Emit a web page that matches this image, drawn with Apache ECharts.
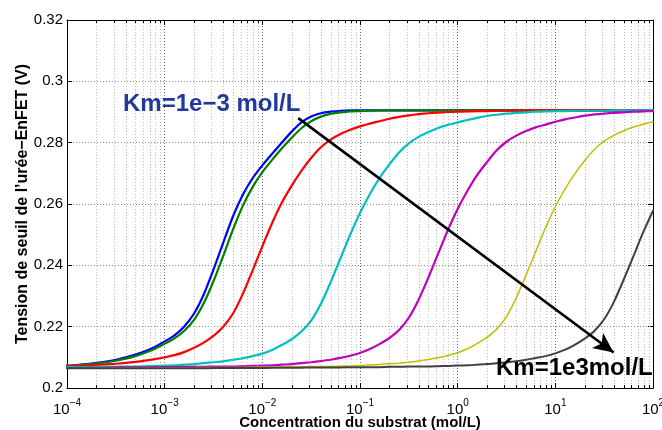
<!DOCTYPE html>
<html>
<head>
<meta charset="utf-8">
<script src="https://cdn.jsdelivr.net/npm/echarts@6/dist/echarts.min.js"></script>
<style>
  html, body { margin: 0; padding: 0; background: #fff; }
  #chart { width: 662px; height: 430px; }
</style>
</head>
<body>
<div id="chart"></div>
<script>
// Substrate concentration (mol/L), 10 samples per decade from 1e-4 to 1e2
const concentration = [
  1.00e-4, 1.26e-4, 1.58e-4, 2.00e-4, 2.51e-4, 3.16e-4, 3.98e-4, 5.01e-4, 6.31e-4, 7.94e-4,
  1.00e-3, 1.26e-3, 1.58e-3, 2.00e-3, 2.51e-3, 3.16e-3, 3.98e-3, 5.01e-3, 6.31e-3, 7.94e-3,
  1.00e-2, 1.26e-2, 1.58e-2, 2.00e-2, 2.51e-2, 3.16e-2, 3.98e-2, 5.01e-2, 6.31e-2, 7.94e-2,
  1.00e-1, 1.26e-1, 1.58e-1, 2.00e-1, 2.51e-1, 3.16e-1, 3.98e-1, 5.01e-1, 6.31e-1, 7.94e-1,
  1.00, 1.26, 1.58, 2.00, 2.51, 3.16, 3.98, 5.01, 6.31, 7.94,
  10.0, 12.6, 15.8, 20.0, 25.1, 31.6, 39.8, 50.1, 63.1, 79.4,
  100
];

// Threshold voltage (V) for each Km curve
const vBlue = [
  0.2073, 0.2075, 0.2078, 0.2082, 0.2086, 0.2092, 0.2100, 0.2109, 0.2120, 0.2134,
  0.2152, 0.2172, 0.2200, 0.2243, 0.2305, 0.2386, 0.2474, 0.2560, 0.2630, 0.2684,
  0.2726, 0.2764, 0.2800, 0.2836, 0.2866, 0.2885, 0.2896, 0.2901, 0.2904, 0.2905,
  0.2905, 0.2905, 0.2905, 0.2905, 0.2905, 0.2905, 0.2905, 0.2905, 0.2905, 0.2905,
  0.2905, 0.2905, 0.2905, 0.2905, 0.2905, 0.2905, 0.2905, 0.2905, 0.2905, 0.2905,
  0.2905, 0.2905, 0.2905, 0.2905, 0.2905, 0.2905, 0.2905, 0.2905, 0.2905, 0.2905,
  0.2905
];
const vGreen = [
  0.2072, 0.2074, 0.2077, 0.2080, 0.2084, 0.2089, 0.2096, 0.2104, 0.2115, 0.2128,
  0.2144, 0.2162, 0.2186, 0.2222, 0.2276, 0.2348, 0.2431, 0.2517, 0.2594, 0.2655,
  0.2704, 0.2744, 0.2781, 0.2816, 0.2847, 0.2870, 0.2885, 0.2894, 0.2899, 0.2902,
  0.2903, 0.2904, 0.2905, 0.2905, 0.2905, 0.2905, 0.2905, 0.2905, 0.2905, 0.2905,
  0.2905, 0.2905, 0.2905, 0.2905, 0.2905, 0.2905, 0.2905, 0.2905, 0.2905, 0.2905,
  0.2905, 0.2905, 0.2905, 0.2905, 0.2905, 0.2905, 0.2905, 0.2905, 0.2905, 0.2905,
  0.2905
];
const vRed = [
  0.2071, 0.2072, 0.2073, 0.2075, 0.2077, 0.2079, 0.2082, 0.2085, 0.2089, 0.2094,
  0.2100, 0.2107, 0.2117, 0.2131, 0.2148, 0.2170, 0.2200, 0.2243, 0.2307, 0.2383,
  0.2462, 0.2538, 0.2604, 0.2660, 0.2708, 0.2750, 0.2785, 0.2810, 0.2828, 0.2842,
  0.2853, 0.2862, 0.2870, 0.2878, 0.2884, 0.2889, 0.2893, 0.2896, 0.2898, 0.2900,
  0.2901, 0.2902, 0.2903, 0.2903, 0.2904, 0.2904, 0.2904, 0.2905, 0.2905, 0.2905,
  0.2905, 0.2905, 0.2905, 0.2905, 0.2905, 0.2905, 0.2905, 0.2905, 0.2905, 0.2905,
  0.2905
];
const vCyan = [
  0.2068, 0.2068, 0.2068, 0.2069, 0.2069, 0.2069, 0.2070, 0.2070, 0.2071, 0.2072,
  0.2073, 0.2074, 0.2076, 0.2078, 0.2081, 0.2084, 0.2087, 0.2092, 0.2097, 0.2104,
  0.2112, 0.2124, 0.2140, 0.2159, 0.2184, 0.2220, 0.2275, 0.2345, 0.2423, 0.2500,
  0.2571, 0.2632, 0.2684, 0.2729, 0.2768, 0.2798, 0.2819, 0.2835, 0.2848, 0.2858,
  0.2866, 0.2874, 0.2881, 0.2887, 0.2891, 0.2895, 0.2897, 0.2899, 0.2901, 0.2902,
  0.2903, 0.2903, 0.2904, 0.2904, 0.2904, 0.2904, 0.2905, 0.2905, 0.2905, 0.2905,
  0.2905
];
const vMagenta = [
  0.2065, 0.2066, 0.2066, 0.2066, 0.2066, 0.2067, 0.2067, 0.2067, 0.2067, 0.2068,
  0.2068, 0.2068, 0.2069, 0.2069, 0.2069, 0.2070, 0.2070, 0.2070, 0.2071, 0.2072,
  0.2073, 0.2074, 0.2076, 0.2078, 0.2081, 0.2084, 0.2088, 0.2092, 0.2098, 0.2105,
  0.2114, 0.2127, 0.2143, 0.2163, 0.2189, 0.2229, 0.2288, 0.2360, 0.2438, 0.2515,
  0.2584, 0.2643, 0.2694, 0.2737, 0.2775, 0.2803, 0.2823, 0.2838, 0.2850, 0.2859,
  0.2868, 0.2876, 0.2882, 0.2888, 0.2892, 0.2895, 0.2897, 0.2899, 0.2901, 0.2902,
  0.2903
];
const vYellow = [
  0.2064, 0.2064, 0.2064, 0.2065, 0.2065, 0.2065, 0.2065, 0.2065, 0.2065, 0.2066,
  0.2066, 0.2066, 0.2066, 0.2066, 0.2067, 0.2067, 0.2067, 0.2067, 0.2067, 0.2068,
  0.2068, 0.2068, 0.2069, 0.2069, 0.2069, 0.2070, 0.2070, 0.2070, 0.2071, 0.2072,
  0.2073, 0.2075, 0.2077, 0.2079, 0.2081, 0.2084, 0.2088, 0.2093, 0.2099, 0.2106,
  0.2115, 0.2128, 0.2145, 0.2165, 0.2192, 0.2233, 0.2294, 0.2368, 0.2446, 0.2523,
  0.2591, 0.2649, 0.2698, 0.2742, 0.2778, 0.2805, 0.2824, 0.2839, 0.2851, 0.2860,
  0.2868
];
const vGray = [
  0.2064, 0.2064, 0.2064, 0.2064, 0.2064, 0.2064, 0.2064, 0.2064, 0.2064, 0.2064,
  0.2064, 0.2064, 0.2064, 0.2064, 0.2064, 0.2065, 0.2065, 0.2065, 0.2065, 0.2065,
  0.2065, 0.2066, 0.2066, 0.2066, 0.2066, 0.2067, 0.2067, 0.2067, 0.2067, 0.2068,
  0.2068, 0.2068, 0.2068, 0.2069, 0.2069, 0.2070, 0.2070, 0.2070, 0.2071, 0.2072,
  0.2073, 0.2074, 0.2076, 0.2078, 0.2081, 0.2084, 0.2087, 0.2092, 0.2098, 0.2104,
  0.2113, 0.2125, 0.2141, 0.2161, 0.2186, 0.2224, 0.2281, 0.2353, 0.2430, 0.2508,
  0.2578
];

const seriesNames = ['Km=1e-3', 'Km=1e-2', 'Km=1e-1', 'Km=1', 'Km=1e1', 'Km=1e2', 'Km=1e3'];
const seriesValues = [vBlue, vGreen, vRed, vCyan, vMagenta, vYellow, vGray];
const seriesColors = ['#0000ff', '#008000', '#ff0000', '#00bfbf', '#bf00bf', '#bfbf00', '#404040'];
const seriesWidths = [2.2, 2.2, 2.2, 2.2, 2.2, 1.5, 2];

// Axes
const xMin = 1e-4, xMax = 1e2;
const yMin = 0.2, yMax = 0.32, yStep = 0.02;
const xTitle = 'Concentration du substrat (mol/L)';
const yTitle = 'Tension de seuil de l\u2019ur\u00e9e\u2212EnFET (V)';

// Annotations (data units)
const arrowFrom = [0.0233, 0.2880];
const arrowTo = [39.5, 0.2116];
const labelLow = 'Km=1e\u22123 mol/L';
const labelHigh = 'Km=1e3mol/L';

// minor log ticks 2..9 per decade
const minorTicks = [];
for (let e = -4; e < 2; e++) {
  for (let m = 2; m <= 9; m++) minorTicks.push([m * Math.pow(10, e), 0.26]);
}

const FONT = '"Liberation Sans", Arial, Helvetica, sans-serif';

const chart = echarts.init(document.getElementById('chart'), null, { renderer: 'canvas' });

const lineSeries = seriesValues.map((vals, i) => ({
  name: seriesNames[i],
  type: 'line',
  xAxisIndex: 0,
  yAxisIndex: 0,
  data: concentration.map((c, j) => [c, vals[j]]),
  showSymbol: false,
  symbol: 'none',
  smooth: 0.2,
  lineStyle: { color: seriesColors[i], width: seriesWidths[i], join: 'round', cap: 'round' },
  itemStyle: { color: seriesColors[i] },
  silent: true,
  z: 3 + i * 0.01,
  animation: false
}));

// arrow annotation attached to last series
lineSeries[lineSeries.length - 1].markLine = {
  silent: true,
  symbol: ['none', 'arrow'],
  symbolSize: [14, 20],
  label: { show: false },
  lineStyle: { color: '#000', width: 2.6, type: 'solid' },
  emphasis: { disabled: true },
  data: [[{ coord: arrowFrom }, { coord: arrowTo }]],
  z: 10,
  animation: false
};

const minorSeries = {
  type: 'custom',
  xAxisIndex: 0,
  yAxisIndex: 0,
  data: minorTicks,
  silent: true,
  z: 1,
  renderItem: function (params, api) {
    const px = Math.round(api.coord([api.value(0), 0.26])[0]) + 0.5;
    const cs = params.coordSys;
    const top = cs.y, bot = cs.y + cs.height;
    return {
      type: 'group',
      children: [
        { type: 'line', shape: { x1: px, y1: top, x2: px, y2: bot },
          style: { stroke: '#bcbcbc', lineWidth: 1, lineDash: [1, 2] } },
        { type: 'line', shape: { x1: px, y1: bot, x2: px, y2: bot - 3 },
          style: { stroke: '#000', lineWidth: 1 } },
        { type: 'line', shape: { x1: px, y1: top, x2: px, y2: top + 3 },
          style: { stroke: '#000', lineWidth: 1 } }
      ]
    };
  },
  animation: false
};

function expLabel(v) {
  const e = Math.round(Math.log10(v));
  const s = (e < 0 ? '\u2212' : '') + Math.abs(e);
  return '{b|10}{e|' + s + '}';
}

const option = {
  animation: false,
  backgroundColor: '#fff',
  grid: { left: 67, right: 9, top: 20, bottom: 42, containLabel: false, outerBoundsMode: 'none' },
  xAxis: [
    {
      type: 'log', logBase: 10, min: xMin, max: xMax, position: 'bottom',
      axisLine: { show: true, lineStyle: { color: '#000', width: 1 } },
      axisTick: { show: true, inside: true, length: 5, lineStyle: { color: '#000' } },
      axisLabel: {
        margin: 10,
        formatter: expLabel,
        rich: {
          b: { fontSize: 15, fontFamily: FONT, color: '#000', lineHeight: 24 },
          e: { fontSize: 10, fontFamily: FONT, color: '#000', lineHeight: 10, verticalAlign: 'top' }
        }
      },
      splitLine: { show: true, lineStyle: { color: '#666', width: 1, type: [1, 2] } },
      name: xTitle,
      nameLocation: 'middle',
      nameGap: 27,
      nameMoveOverlap: false,
      nameTextStyle: { fontSize: 15, fontWeight: 'bold', fontFamily: FONT, color: '#000' }
    },
    {
      type: 'log', logBase: 10, min: xMin, max: xMax, position: 'top',
      axisLine: { show: true, lineStyle: { color: '#000', width: 1 } },
      axisTick: { show: true, inside: true, length: 5, lineStyle: { color: '#000' } },
      axisLabel: { show: false },
      splitLine: { show: false }
    }
  ],
  yAxis: [
    {
      type: 'value', min: yMin, max: yMax, interval: yStep, position: 'left',
      axisLine: { show: true, lineStyle: { color: '#000', width: 1 } },
      axisTick: { show: true, inside: true, length: 5, lineStyle: { color: '#000' } },
      axisLabel: { fontSize: 15, fontFamily: FONT, color: '#000', margin: 4 },
      splitLine: { show: true, lineStyle: { color: '#8a8a8a', width: 1, type: [1, 2] } },
      name: yTitle,
      nameLocation: 'middle',
      nameGap: 36,
      nameMoveOverlap: false,
      nameTextStyle: { fontSize: 16, fontWeight: 'bold', fontFamily: FONT, color: '#000' }
    },
    {
      type: 'value', min: yMin, max: yMax, interval: yStep, position: 'right',
      axisLine: { show: true, lineStyle: { color: '#000', width: 1 } },
      axisTick: { show: true, inside: true, length: 5, lineStyle: { color: '#000' } },
      axisLabel: { show: false },
      splitLine: { show: false }
    }
  ],
  series: [minorSeries].concat(lineSeries),
  graphic: [
    {
      type: 'text', left: 123, top: 92, z: 100, silent: true,
      style: { text: labelLow, font: 'bold 24px ' + FONT, fill: '#22389a' }
    },
    {
      type: 'text', left: 496, top: 356, z: 100, silent: true,
      style: { text: labelHigh, font: 'bold 24px ' + FONT, fill: '#000' }
    }
  ]
};

chart.setOption(option);
</script>
</body>
</html>
